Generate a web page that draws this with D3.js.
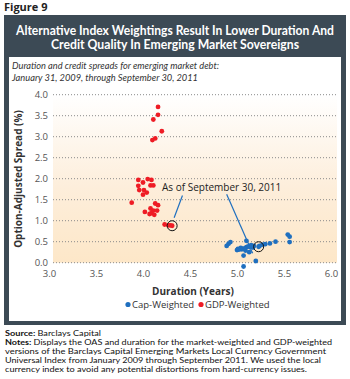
<!DOCTYPE html>
<html>
<head>
<meta charset="utf-8">
<script src="https://cdn.jsdelivr.net/npm/d3@7"></script>
<style>
  body { margin: 0; background: #fff; }
  svg { display: block; font-family: "Open Sans", "Liberation Sans", sans-serif; }
</style>
</head>
<body>
<svg id="chart" width="350" height="379"></svg>
<script>
// DATA ////////////////////////////////////////////////////////////////////

var capDuration = [4.91, 4.89, 4.93, 5.00, 5.01, 5.05, 5.06, 5.10, 5.10, 5.14, 5.17, 5.07, 5.07, 5.20, 5.13,
                   5.23, 5.24, 5.30, 5.35, 5.41, 5.54, 5.56, 5.56, 5.02, 5.04, 5.08, 5.12, 5.15, 5.18, 5.27, 5.09];
var capSpread   = [0.45, 0.40, 0.49, 0.30, 0.33, 0.32, 0.33, 0.52, 0.37, 0.37, 0.36, 0.17, -0.09, 0.04, 0.25,
                   0.38, 0.40, 0.44, 0.46, 0.50, 0.67, 0.62, 0.49, 0.31, 0.35, 0.34, 0.39, 0.42, 0.40, 0.43, 0.29];

var gdpDuration = [4.16, 4.16, 4.11, 4.20, 4.10, 4.13,
                   3.95, 4.05, 4.09, 4.00, 3.95, 4.08, 4.11, 3.96, 4.01, 4.04, 4.00, 3.88, 4.13, 4.16,
                   4.02, 4.08, 4.11, 4.15, 4.09, 4.12, 4.07, 4.23, 4.27, 4.29, 4.31];
var gdpSpread   = [3.71, 3.52, 3.41, 3.13, 2.92, 2.96,
                   1.97, 1.99, 1.97, 1.91, 1.83, 1.84, 1.84, 1.73, 1.73, 1.67, 1.62, 1.43, 1.41, 1.37,
                   1.21, 1.29, 1.24, 1.24, 1.18, 1.14, 1.16, 0.91, 0.89, 0.89, 0.88];

// latest observations (September 30, 2011)
var latestCap = [5.23, 0.38];
var latestGdp = [4.31, 0.88];

var xTicks = [3.0, 3.5, 4.0, 4.5, 5.0, 5.5, 6.0];
var yTicks = [0.0, 0.5, 1.0, 1.5, 2.0, 2.5, 3.0, 3.5, 4.0];

var titleLines = ["Alternative Index Weightings Result In Lower Duration And",
                  "Credit Quality In Emerging Market Sovereigns"];
var subtitleLines = ["Duration and credit spreads for emerging market debt:",
                     "January 31, 2009, through September 30, 2011"];
var noteLines = ["Displays the OAS and duration for the market-weighted and GDP-weighted",
                 "versions of the Barclays Capital Emerging Markets Local Currency Government",
                 "Universal Index from January 2009 through September 2011. We used the local",
                 "currency index to avoid any potential distortions from hard-currency issues."];

var CAP_COLOR = "#1f6fbf";
var GDP_COLOR = "#ee1c25";
var FRAME_COLOR = "#3c4a55";

// SETUP ///////////////////////////////////////////////////////////////////

var svg = d3.select("#chart");

var x = d3.scaleLinear().domain([3, 6]).range([49, 331]);
var y = d3.scaleLinear().domain([0, 4]).range([262.7, 94.7]);

var PLOT_LEFT = 53, PLOT_RIGHT = 337;

// gradient for plot background
var grad = svg.append("defs").append("linearGradient")
    .attr("id", "bg").attr("x1", 0).attr("y1", 0).attr("x2", 0).attr("y2", 1);
grad.append("stop").attr("offset", "0%").attr("stop-color", "#ffffff");
grad.append("stop").attr("offset", "55%").attr("stop-color", "#fdeedb");
grad.append("stop").attr("offset", "100%").attr("stop-color", "#fde7c8");

// "Figure 9"
svg.append("text")
    .attr("x", 4).attr("y", 11)
    .style("font-size", "11px").style("font-weight", "700").style("fill", "#222")
    .text("Figure 9");

// frame
svg.append("rect")
    .attr("x", 4).attr("y", 15).attr("width", 342).attr("height", 310)
    .attr("fill", FRAME_COLOR);
svg.append("rect")
    .attr("x", 9).attr("y", 57).attr("width", 332).attr("height", 264)
    .attr("fill", "#fff");

var titleWidths = [318, 248];
svg.append("g").selectAll("text")
    .data(titleLines)
    .enter().append("text")
    .attr("x", 175)
    .attr("y", function (d, i) { return 34.5 + i * 14; })
    .attr("text-anchor", "middle")
    .attr("textLength", function (d, i) { return titleWidths[i]; })
    .attr("lengthAdjust", "spacingAndGlyphs")
    .style("font-family", "Lato, sans-serif")
    .style("font-size", "12.5px").style("font-weight", "700").style("fill", "#fff")
    .text(function (d) { return d; });

var subtitleWidths = [207, 186];
svg.append("g").selectAll("text")
    .data(subtitleLines)
    .enter().append("text")
    .attr("x", 12)
    .attr("y", function (d, i) { return 69 + i * 11.7; })
    .attr("textLength", function (d, i) { return subtitleWidths[i]; })
    .attr("lengthAdjust", "spacingAndGlyphs")
    .style("font-family", "Lato, sans-serif")
    .style("font-size", "9.6px").style("font-style", "italic").style("fill", "#333")
    .text(function (d) { return d; });

// plot background + grid
svg.append("rect")
    .attr("x", PLOT_LEFT).attr("y", y(4))
    .attr("width", PLOT_RIGHT - PLOT_LEFT).attr("height", y(0) - y(4))
    .attr("fill", "url(#bg)");

svg.append("g").selectAll("line")
    .data(yTicks)
    .enter().append("line")
    .attr("x1", PLOT_LEFT).attr("x2", PLOT_RIGHT)
    .attr("y1", function (d) { return y(d); })
    .attr("y2", function (d) { return y(d); })
    .attr("stroke", "#8a8a8a").attr("stroke-width", 1)
    .attr("stroke-dasharray", "1,2");

// axes (labels only)
var yAxis = svg.append("g")
    .attr("transform", "translate(48,0)")
    .call(d3.axisLeft(y).tickValues(yTicks).tickFormat(d3.format(".1f")).tickSize(0).tickPadding(0));
yAxis.select(".domain").remove();
yAxis.selectAll("text")
    .style("font-size", "9.5px").style("fill", "#555").style("font-family", "'Open Sans', sans-serif");

var xAxis = svg.append("g")
    .attr("transform", "translate(0,270)")
    .call(d3.axisBottom(x).tickValues(xTicks).tickFormat(d3.format(".1f")).tickSize(0).tickPadding(0));
xAxis.select(".domain").remove();
xAxis.selectAll("text")
    .style("font-size", "9.5px").style("fill", "#555").style("font-family", "'Open Sans', sans-serif");

svg.append("text")
    .attr("x", 193).attr("y", 294.5)
    .attr("text-anchor", "middle")
    .style("font-size", "10px").style("font-weight", "700").style("fill", "#333")
    .text("Duration (Years)");

svg.append("text")
    .attr("transform", "translate(22," + 179 + ") rotate(-90)")
    .attr("text-anchor", "middle")
    .style("font-size", "10px").style("font-weight", "700").style("fill", "#333")
    .text("Option-Adjusted Spread (%)");

// points
svg.append("g").selectAll("circle")
    .data(d3.range(gdpDuration.length))
    .enter().append("circle")
    .attr("cx", function (i) { return x(gdpDuration[i]); })
    .attr("cy", function (i) { return y(gdpSpread[i]); })
    .attr("r", 2.4)
    .attr("fill", GDP_COLOR);

svg.append("g").selectAll("circle")
    .data(d3.range(capDuration.length))
    .enter().append("circle")
    .attr("cx", function (i) { return x(capDuration[i]); })
    .attr("cy", function (i) { return y(capSpread[i]); })
    .attr("r", 2.4)
    .attr("fill", CAP_COLOR);

// highlight rings around latest values
svg.append("g").selectAll("circle")
    .data([latestGdp, latestCap])
    .enter().append("circle")
    .attr("cx", function (d) { return x(d[0]); })
    .attr("cy", function (d) { return y(d[1]); })
    .attr("r", 5)
    .attr("fill", "none")
    .attr("stroke", "#111").attr("stroke-width", 1);

// annotation
svg.append("text")
    .attr("x", 162).attr("y", 191)
    .style("font-size", "10px").style("fill", "#222")
    .text("As of September 30, 2011");

var leaders = [
    { x1: x(4.42), y1: y(1.6), x2: x(latestGdp[0]) + 2, y2: y(latestGdp[1]) - 8 },
    { x1: x(4.89), y1: y(1.63), x2: x(latestCap[0]) - 6, y2: y(latestCap[1]) + 6.5 }
];
svg.append("g").selectAll("line")
    .data(leaders)
    .enter().append("line")
    .attr("x1", function (d) { return d.x1; })
    .attr("y1", function (d) { return d.y1; })
    .attr("x2", function (d) { return d.x2; })
    .attr("y2", function (d) { return d.y2; })
    .attr("stroke", CAP_COLOR).attr("stroke-width", 1.2);

// legend
var legend = svg.append("g").attr("transform", "translate(0,307.5)");
var legendItems = [{ label: "Cap-Weighted", color: CAP_COLOR, x: 128 },
                   { label: "GDP-Weighted", color: GDP_COLOR, x: 201 }];
legend.selectAll("circle")
    .data(legendItems)
    .enter().append("circle")
    .attr("cx", function (d) { return d.x; }).attr("cy", -3)
    .attr("r", 2.6).attr("fill", function (d) { return d.color; });
legend.selectAll("text")
    .data(legendItems)
    .enter().append("text")
    .attr("x", function (d) { return d.x + 4; })
    .style("font-size", "9.5px").style("fill", "#333")
    .text(function (d) { return d.label; });

// footer
var noteWidths = [327, 321, 316, 302];
var footer = svg.append("g")
    .style("font-family", "Lato, sans-serif")
    .style("font-size", "8.4px").style("fill", "#111");
var src = footer.append("text").attr("x", 5).attr("y", 335.5)
    .attr("textLength", 96).attr("lengthAdjust", "spacingAndGlyphs");
src.append("tspan").style("font-weight", "700").text("Source: ");
src.append("tspan").text("Barclays Capital");

footer.selectAll("text.note")
    .data(noteLines)
    .enter().append("text")
    .attr("class", "note")
    .attr("x", 5)
    .attr("y", function (d, i) { return 345 + i * 9; })
    .attr("textLength", function (d, i) { return noteWidths[i]; })
    .attr("lengthAdjust", "spacingAndGlyphs")
    .each(function (d, i) {
        var t = d3.select(this);
        if (i === 0) t.append("tspan").style("font-weight", "700").text("Notes: ");
        t.append("tspan").text(d);
    });
</script>
</body>
</html>
